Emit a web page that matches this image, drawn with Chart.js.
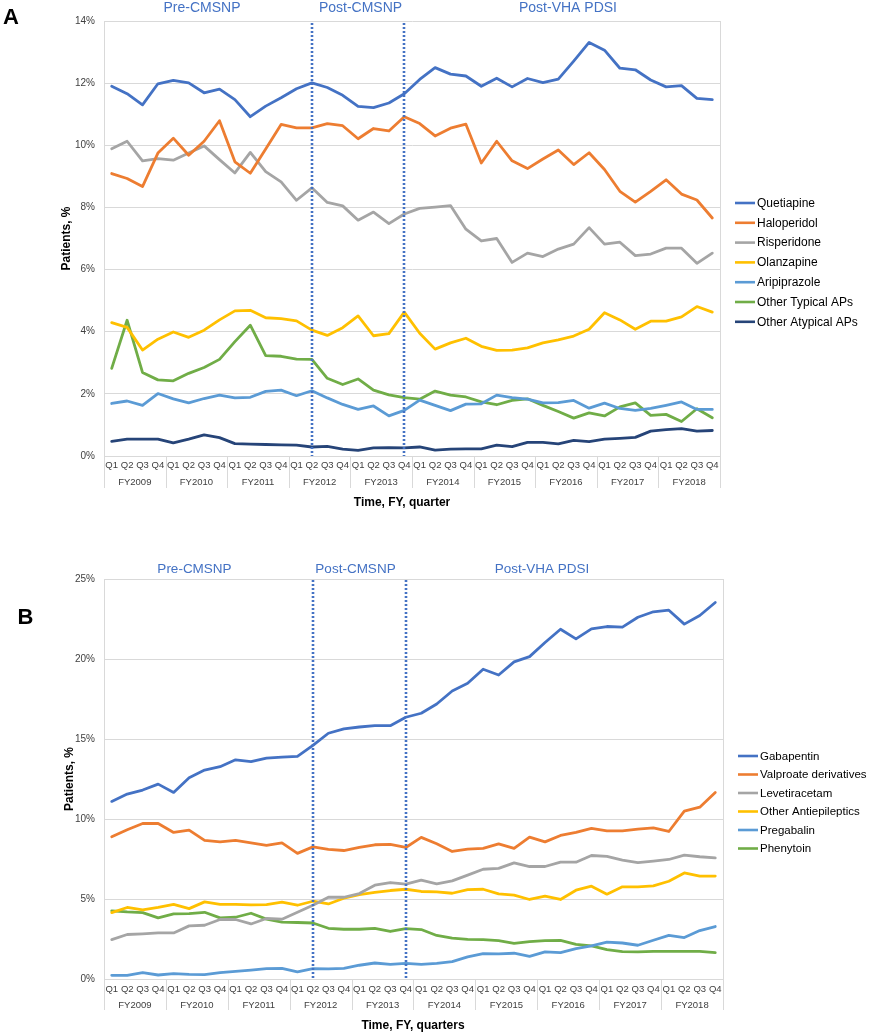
<!DOCTYPE html>
<html>
<head>
<meta charset="utf-8">
<script src="https://cdn.jsdelivr.net/npm/chart.js@4.4.0/dist/chart.umd.min.js"></script>
<style>
  html, body { margin: 0; padding: 0; background: #fff; }
  #wrap { position: relative; width: 869px; height: 1035px; }
  canvas { position: absolute; left: 0; }
  #chart-a { top: 0; }
  #chart-b { top: 515px; }
</style>
</head>
<body>
<div id="wrap">
  <canvas id="chart-a" width="869" height="515"></canvas>
  <canvas id="chart-b" width="869" height="520"></canvas>
</div>
<script>
// categories
const fiscalYears = ['FY2009', 'FY2010', 'FY2011', 'FY2012', 'FY2013', 'FY2014', 'FY2015', 'FY2016', 'FY2017', 'FY2018'];
const quarters = ['Q1', 'Q2', 'Q3', 'Q4'];
const periodNames = ['Pre-CMSNP', 'Post-CMSNP', 'Post-VHA PDSI'];
// quarter index where the dotted policy lines sit (FY2012 Q2, FY2013 Q4)
const policyMarks = [13, 19];

// panel A: antipsychotics, % of patients
const quetiapine = [11.90, 11.66, 11.30, 11.98, 12.09, 12.01, 11.69, 11.81, 11.47, 10.92, 11.26, 11.53, 11.82, 12.01, 11.86, 11.61, 11.25, 11.21, 11.36, 11.66,
  12.12, 12.50, 12.29, 12.23, 11.90, 12.16, 11.88, 12.15, 12.02, 12.13, 12.71, 13.31, 13.06, 12.48, 12.43, 12.10, 11.88, 11.92, 11.51, 11.47];
const haloperidol = [9.09, 8.93, 8.67, 9.75, 10.23, 9.68, 10.13, 10.79, 9.47, 9.10, 9.88, 10.67, 10.56, 10.56, 10.70, 10.63, 10.21, 10.54, 10.46, 10.92,
  10.70, 10.30, 10.55, 10.68, 9.43, 10.13, 9.50, 9.25, 9.56, 9.85, 9.38, 9.76, 9.22, 8.52, 8.17, 8.52, 8.89, 8.43, 8.24, 7.66];
const risperidone = [9.89, 10.13, 9.50, 9.57, 9.52, 9.75, 9.98, 9.54, 9.11, 9.77, 9.15, 8.82, 8.23, 8.63, 8.16, 8.05, 7.59, 7.85, 7.48, 7.79,
  7.97, 8.01, 8.06, 7.30, 6.92, 7.00, 6.23, 6.53, 6.42, 6.66, 6.82, 7.35, 6.82, 6.88, 6.45, 6.50, 6.69, 6.69, 6.20, 6.53];
const olanzapine = [4.29, 4.14, 3.41, 3.76, 3.99, 3.82, 4.05, 4.38, 4.67, 4.69, 4.45, 4.42, 4.35, 4.05, 3.88, 4.13, 4.51, 3.87, 3.94, 4.63,
  3.95, 3.44, 3.64, 3.79, 3.53, 3.40, 3.41, 3.48, 3.64, 3.74, 3.86, 4.08, 4.61, 4.38, 4.08, 4.34, 4.34, 4.48, 4.81, 4.63];
const aripiprazole = [1.69, 1.77, 1.63, 2.01, 1.84, 1.71, 1.85, 1.96, 1.87, 1.89, 2.08, 2.12, 1.94, 2.10, 1.87, 1.66, 1.50, 1.61, 1.29, 1.47,
  1.80, 1.63, 1.46, 1.67, 1.68, 1.96, 1.88, 1.83, 1.71, 1.72, 1.79, 1.54, 1.70, 1.53, 1.47, 1.53, 1.63, 1.74, 1.50, 1.50];
const otherTypicalAPs = [2.82, 4.37, 2.69, 2.45, 2.42, 2.66, 2.85, 3.11, 3.68, 4.21, 3.23, 3.21, 3.12, 3.11, 2.50, 2.30, 2.48, 2.12, 1.97, 1.88,
  1.83, 2.09, 1.96, 1.90, 1.74, 1.65, 1.79, 1.84, 1.63, 1.43, 1.22, 1.39, 1.29, 1.58, 1.71, 1.31, 1.34, 1.11, 1.52, 1.23];
const otherAtypicalAPs = [0.47, 0.54, 0.54, 0.54, 0.42, 0.54, 0.68, 0.59, 0.40, 0.38, 0.37, 0.36, 0.35, 0.29, 0.31, 0.22, 0.18, 0.26, 0.27, 0.26,
  0.29, 0.19, 0.22, 0.23, 0.23, 0.35, 0.30, 0.44, 0.44, 0.39, 0.50, 0.46, 0.54, 0.57, 0.60, 0.80, 0.85, 0.88, 0.80, 0.82];
const ticksA = [0, 2, 4, 6, 8, 10, 12, 14];

// panel B: antiepileptics, % of patients
const gabapentin = [11.10, 11.56, 11.81, 12.18, 11.66, 12.58, 13.06, 13.27, 13.70, 13.58, 13.81, 13.87, 13.92, 14.60, 15.36, 15.63, 15.75, 15.83, 15.83, 16.36,
  16.61, 17.19, 18.00, 18.48, 19.36, 19.00, 19.82, 20.15, 21.03, 21.86, 21.26, 21.88, 22.03, 21.99, 22.61, 22.95, 23.05, 22.18, 22.72, 23.53];
const valproate = [8.89, 9.33, 9.72, 9.72, 9.16, 9.31, 8.66, 8.57, 8.66, 8.51, 8.35, 8.51, 7.85, 8.26, 8.10, 8.03, 8.22, 8.39, 8.41, 8.22,
  8.85, 8.45, 7.97, 8.12, 8.16, 8.45, 8.16, 8.87, 8.57, 8.97, 9.16, 9.41, 9.26, 9.26, 9.37, 9.45, 9.22, 10.49, 10.74, 11.66];
const levetiracetam = [2.46, 2.78, 2.82, 2.88, 2.88, 3.32, 3.36, 3.72, 3.72, 3.44, 3.78, 3.74, 4.17, 4.61, 5.11, 5.11, 5.34, 5.86, 6.03, 5.93,
  6.18, 5.95, 6.13, 6.49, 6.86, 6.91, 7.26, 7.03, 7.03, 7.30, 7.30, 7.72, 7.66, 7.43, 7.28, 7.37, 7.47, 7.74, 7.64, 7.57];
const otherAntiepileptics = [4.15, 4.47, 4.32, 4.47, 4.67, 4.40, 4.82, 4.67, 4.67, 4.63, 4.65, 4.80, 4.61, 4.86, 4.69, 5.05, 5.28, 5.41, 5.53, 5.61,
  5.47, 5.45, 5.36, 5.59, 5.61, 5.32, 5.24, 4.97, 5.18, 4.97, 5.55, 5.80, 5.30, 5.76, 5.76, 5.82, 6.11, 6.63, 6.43, 6.43];
const pregabalin = [0.23, 0.23, 0.40, 0.25, 0.34, 0.29, 0.27, 0.40, 0.48, 0.56, 0.65, 0.67, 0.44, 0.65, 0.63, 0.67, 0.86, 1.00, 0.92, 0.98,
  0.92, 0.98, 1.09, 1.38, 1.59, 1.57, 1.61, 1.42, 1.69, 1.65, 1.90, 2.07, 2.30, 2.25, 2.11, 2.42, 2.73, 2.59, 3.03, 3.28];
const phenytoin = [4.26, 4.19, 4.15, 3.82, 4.07, 4.09, 4.17, 3.82, 3.86, 4.11, 3.74, 3.55, 3.53, 3.50, 3.17, 3.11, 3.11, 3.17, 2.97, 3.15,
  3.09, 2.72, 2.55, 2.48, 2.46, 2.40, 2.23, 2.34, 2.40, 2.42, 2.17, 2.07, 1.84, 1.71, 1.69, 1.73, 1.73, 1.73, 1.73, 1.65];
const ticksB = [0, 5, 10, 15, 20, 25];

const labels = fiscalYears.flatMap(fy => quarters.map(q => fy + ' ' + q));
const FONT = "'Liberation Sans', Arial, sans-serif";
const TEXT = '#404040';
const GRID = '#d9d9d9';
const PERIOD_BLUE = '#4472C4';

function series(name, data, color) {
  return {
    label: name, data: data, borderColor: color, backgroundColor: color,
    borderWidth: 2.8, pointRadius: 0, pointHoverRadius: 0, tension: 0,
    borderJoinStyle: 'round', borderCapStyle: 'round', fill: false
  };
}

// draws the extras Excel put round the plot: policy lines, FY row, titles, legend
const decor = {
  id: 'decor',
  afterDatasetsDraw(chart, args, o) {
    const { ctx, chartArea: a, scales: { x } } = chart;
    ctx.save();
    ctx.strokeStyle = PERIOD_BLUE;
    ctx.lineWidth = 2.6;
    ctx.setLineDash([2, 2]);
    policyMarks.forEach(i => {
      const px = Math.round(x.getPixelForValue(i));
      ctx.beginPath();
      ctx.moveTo(px, Math.round(o.markTop));
      ctx.lineTo(px, a.bottom);
      ctx.stroke();
    });
    ctx.restore();
  },
  afterDraw(chart, args, o) {
    const { ctx, chartArea: a, scales: { x } } = chart;
    ctx.save();
    // right frame
    ctx.strokeStyle = GRID;
    ctx.lineWidth = 1;
    ctx.beginPath();
    ctx.moveTo(a.right + 0.5, a.top);
    ctx.lineTo(a.right + 0.5, a.bottom);
    ctx.stroke();

    // FY group separators and labels
    const step = x.getPixelForValue(1) - x.getPixelForValue(0);
    ctx.beginPath();
    for (let k = 0; k <= fiscalYears.length; k++) {
      const px = Math.round(x.getPixelForValue(k * 4) - step / 2) + 0.5;
      ctx.moveTo(px, a.bottom);
      ctx.lineTo(px, a.bottom + o.sepLen);
    }
    ctx.stroke();
    ctx.fillStyle = TEXT;
    ctx.font = '9.5px ' + FONT;
    ctx.textAlign = 'center';
    ctx.textBaseline = 'middle';
    fiscalYears.forEach((fy, k) => {
      const cx = (x.getPixelForValue(k * 4) + x.getPixelForValue(k * 4 + 3)) / 2;
      ctx.fillText(fy, cx, o.fyY);
    });

    // axis titles
    ctx.fillStyle = '#000';
    ctx.font = 'bold 12px ' + FONT;
    ctx.fillText(o.xTitle, o.xTitlePos[0], o.xTitlePos[1]);
    ctx.save();
    ctx.translate(o.yTitlePos[0], (a.top + a.bottom) / 2);
    ctx.rotate(-Math.PI / 2);
    ctx.fillText('Patients, %', 0, 0);
    ctx.restore();

    // panel letter
    ctx.font = 'bold 22px ' + FONT;
    ctx.fillText(o.letter, o.letterPos[0], o.letterPos[1]);

    // period names
    ctx.fillStyle = PERIOD_BLUE;
    ctx.font = o.periodSize + 'px ' + FONT;
    periodNames.forEach((p, i) => ctx.fillText(p, o.periodX[i], o.periodY));

    // legend
    ctx.textAlign = 'left';
    ctx.font = o.legendSize + 'px ' + FONT;
    chart.data.datasets.forEach((ds, i) => {
      const ly = o.legendY + i * o.legendStep;
      ctx.strokeStyle = ds.borderColor;
      ctx.lineWidth = 2.6;
      ctx.beginPath();
      ctx.moveTo(o.legendX, ly);
      ctx.lineTo(o.legendX + 20, ly);
      ctx.stroke();
      ctx.fillStyle = '#000';
      ctx.fillText(ds.label, o.legendX + 22, ly + 0.5);
    });
    ctx.restore();
  }
};

function buildChart(id, datasets, yTicks, geo, deco) {
  return new Chart(document.getElementById(id), {
    type: 'line',
    data: { labels: labels, datasets: datasets },
    options: {
      responsive: false,
      animation: false,
      devicePixelRatio: 1,
      layout: { padding: { left: 0, top: geo.top, right: geo.right, bottom: 0 } },
      plugins: { legend: { display: false }, tooltip: { enabled: false }, decor: deco },
      scales: {
        x: {
          type: 'category',
          offset: true,
          grid: { display: false, drawTicks: false },
          border: { display: true, color: GRID, width: 1 },
          ticks: {
            autoSkip: false, maxRotation: 0, padding: geo.qPad,
            color: TEXT, font: { family: FONT, size: 9.5 },
            callback: (v, i) => quarters[i % 4]
          },
          afterFit: s => { s.height = geo.xHeight; }
        },
        y: {
          min: yTicks[0],
          max: yTicks[yTicks.length - 1],
          afterBuildTicks: s => { s.ticks = yTicks.map(v => ({ value: v })); },
          grid: { color: GRID, lineWidth: 1, drawTicks: false },
          border: { display: true, color: GRID, width: 1 },
          ticks: {
            padding: 9, color: TEXT, font: { family: FONT, size: 10 },
            callback: v => v + '%'
          },
          afterFit: s => { s.width = 104; }
        }
      }
    },
    plugins: [decor]
  });
}

buildChart('chart-a', [
  series('Quetiapine', quetiapine, '#4472C4'),
  series('Haloperidol', haloperidol, '#ED7D31'),
  series('Risperidone', risperidone, '#A5A5A5'),
  series('Olanzapine', olanzapine, '#FFC000'),
  series('Aripiprazole', aripiprazole, '#5B9BD5'),
  series('Other Typical APs', otherTypicalAPs, '#70AD47'),
  series('Other Atypical APs', otherAtypicalAPs, '#264478')
], ticksA,
  { top: 21, right: 149, xHeight: 59, qPad: 4 },
  {
    markTop: 23, sepLen: 32, fyY: 482.5,
    xTitle: 'Time, FY, quarter', xTitlePos: [402, 502.5], yTitlePos: [67, 0],
    letter: 'A', letterPos: [11, 18],
    periodX: [202, 360.5, 568], periodY: 8.5, periodSize: 14,
    legendX: 735, legendY: 203, legendStep: 19.8, legendSize: 12
  });

buildChart('chart-b', [
  series('Gabapentin', gabapentin, '#4472C4'),
  series('Valproate derivatives', valproate, '#ED7D31'),
  series('Levetiracetam', levetiracetam, '#A5A5A5'),
  series('Other Antiepileptics', otherAntiepileptics, '#FFC000'),
  series('Pregabalin', pregabalin, '#5B9BD5'),
  series('Phenytoin', phenytoin, '#70AD47')
], ticksB,
  { top: 64, right: 146, xHeight: 56, qPad: 5 },
  {
    markTop: 65, sepLen: 31, fyY: 490,
    xTitle: 'Time, FY, quarters', xTitlePos: [413, 510.5], yTitlePos: [70, 0],
    letter: 'B', letterPos: [25.5, 102.5],
    periodX: [194.5, 355.5, 542], periodY: 54.5, periodSize: 13.5,
    legendX: 738, legendY: 241, legendStep: 18.5, legendSize: 11.5
  });
</script>
</body>
</html>
